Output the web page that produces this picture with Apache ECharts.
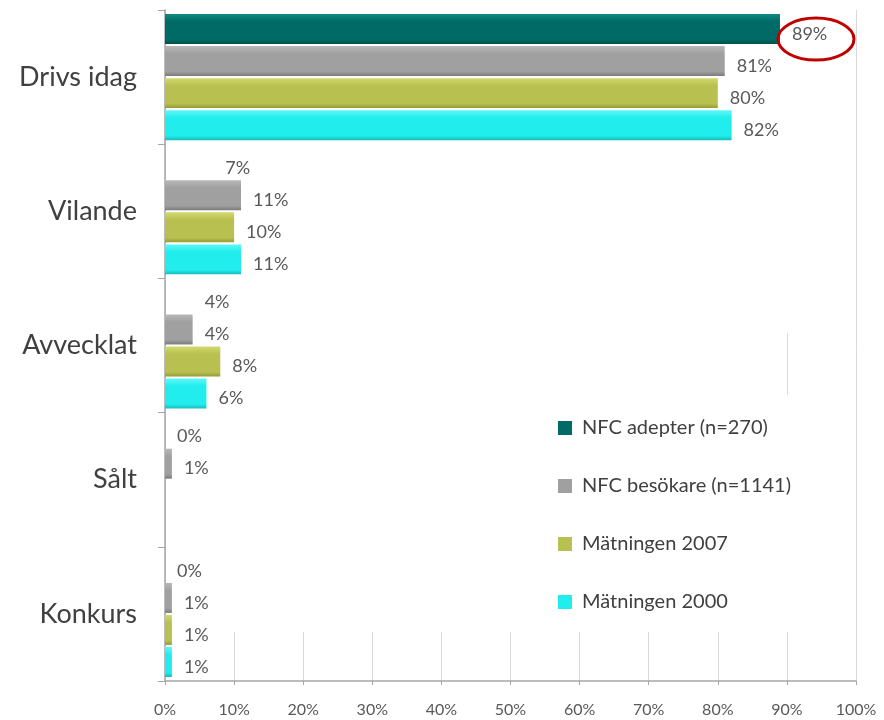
<!DOCTYPE html>
<html>
<head>
<meta charset="utf-8">
<script src="https://cdn.jsdelivr.net/npm/echarts@6/dist/echarts.min.js"></script>
<style>
  html, body { margin: 0; padding: 0; background: #fff; }
  #chart { width: 884px; height: 720px; }
</style>
</head>
<body>
<div id="chart"></div>
<script>
// kategorier uppifrån och ned
const categories = ['Drivs idag', 'Vilande', 'Avvecklat', 'Sålt', 'Konkurs']
const seriesNames = ['NFC adepter (n=270)', 'NFC besökare (n=1141)', 'Mätningen 2007', 'Mätningen 2000']
const adepter = [89, 7, 4, 0, 0]
const besokare = [81, 11, 4, 1, 1]
const matning2007 = [80, 10, 8, null, 1]
const matning2000 = [82, 11, 6, null, 1]
const xTicks = [0, 10, 20, 30, 40, 50, 60, 70, 80, 90, 100]

const values = [adepter, besokare, matning2007, matning2000]
const colors = [
  ['#118a83', '#006b66', '#004e4a'],
  ['#b8b8b8', '#a0a0a0', '#7a7a7a'],
  ['#d2da6c', '#b8c050', '#959c34'],
  ['#5ff7f7', '#22eded', '#16bcbc']
]

function grad(c) {
  return new echarts.graphic.LinearGradient(0, 0, 0, 1, [
    { offset: 0, color: c[0] },
    { offset: 0.25, color: c[1] },
    { offset: 0.85, color: c[1] },
    { offset: 1, color: c[2] }
  ])
}

const chart = echarts.init(document.getElementById('chart'))

const series = seriesNames.map((name, i) => ({
  name: name,
  type: 'bar',
  data: values[i],
  barCategoryGap: '6%',
  barGap: '7%',
  itemStyle: {
    // adepter-serien syns bara för "Drivs idag" i originalet
    color: (p) => (i === 0 && p.dataIndex > 0) ? 'rgba(0,0,0,0)' : grad(colors[i])
  },
  label: {
    show: true,
    position: 'right',
    distance: 12,
    offset: [0, 5],
    formatter: '{c}%',
    color: '#595959',
    fontSize: 18,
    fontFamily: 'Lato'
  }
}))

chart.setOption({
  animation: false,
  grid: { left: 165, right: 28, top: 10, bottom: 39 },
  legend: {
    orient: 'vertical',
    left: 553,
    top: 413,
    itemWidth: 14,
    itemHeight: 14,
    itemGap: 38,
    icon: 'rect',
    textStyle: { fontSize: 20, color: '#404040', fontFamily: 'Lato', lineHeight: 20, padding: [0, 0, 0, 5] },
    data: seriesNames.map((n, i) => ({ name: n, itemStyle: { color: colors[i][1] } }))
  },
  xAxis: {
    type: 'value',
    min: 0,
    max: 100,
    interval: 10,
    axisLine: { show: true, lineStyle: { color: '#a6a6a6', width: 1.5 } },
    axisTick: { show: true, length: 4, lineStyle: { color: '#a6a6a6' } },
    splitLine: { show: true, lineStyle: { color: '#d9d9d9' } },
    axisLabel: {
      margin: 21,
      color: '#595959',
      fontSize: 16,
      fontFamily: 'Lato',
      formatter: (v) => xTicks.indexOf(v) >= 0 ? v + '%' : ''
    }
  },
  yAxis: {
    type: 'category',
    inverse: true,
    data: categories,
    axisLine: { show: true, lineStyle: { color: '#a6a6a6', width: 1.5 } },
    axisTick: { show: true, inside: false, length: 7, lineStyle: { color: '#a6a6a6' } },
    axisLabel: { margin: 28, color: '#404040', fontSize: 27, fontFamily: 'Lato', padding: [8, 0, 0, 0] }
  },
  series: series
})

// vita ytor som döljer stödlinjerna som i originalet, samt röd ring runt 89%
const x0 = chart.convertToPixel({ xAxisIndex: 0 }, 0) + 1
const x90 = chart.convertToPixel({ xAxisIndex: 0 }, 90)
const x100 = chart.convertToPixel({ xAxisIndex: 0 }, 100) - 1
const maskTop = 0
const yLineTop = 333
const yLineBot = 395
const yMaskBot = 632
const x89 = chart.convertToPixel({ xAxisIndex: 0 }, adepter[0])
const yDrivs = chart.convertToPixel({ yAxisIndex: 0 }, categories[0])

chart.setOption({
  graphic: [
    { type: 'rect', z: 1, silent: true, shape: { x: x0, y: maskTop, width: x100 - x0, height: yLineTop - maskTop }, style: { fill: '#fff' } },
    { type: 'rect', z: 1, silent: true, shape: { x: x0, y: yLineTop, width: x90 - 1 - x0, height: yLineBot - yLineTop }, style: { fill: '#fff' } },
    { type: 'rect', z: 1, silent: true, shape: { x: x90 + 1, y: yLineTop, width: x100 - x90 - 1, height: yLineBot - yLineTop }, style: { fill: '#fff' } },
    { type: 'rect', z: 1, silent: true, shape: { x: x0, y: yLineBot, width: x100 - x0, height: yMaskBot - yLineBot }, style: { fill: '#fff' } },
    {
      type: 'ellipse', z: 10, silent: true,
      shape: { cx: x89 + 36, cy: yDrivs - 38, rx: 38, ry: 21 },
      style: { fill: 'none', stroke: '#c00000', lineWidth: 3 }
    }
  ]
})
</script>
</body>
</html>
